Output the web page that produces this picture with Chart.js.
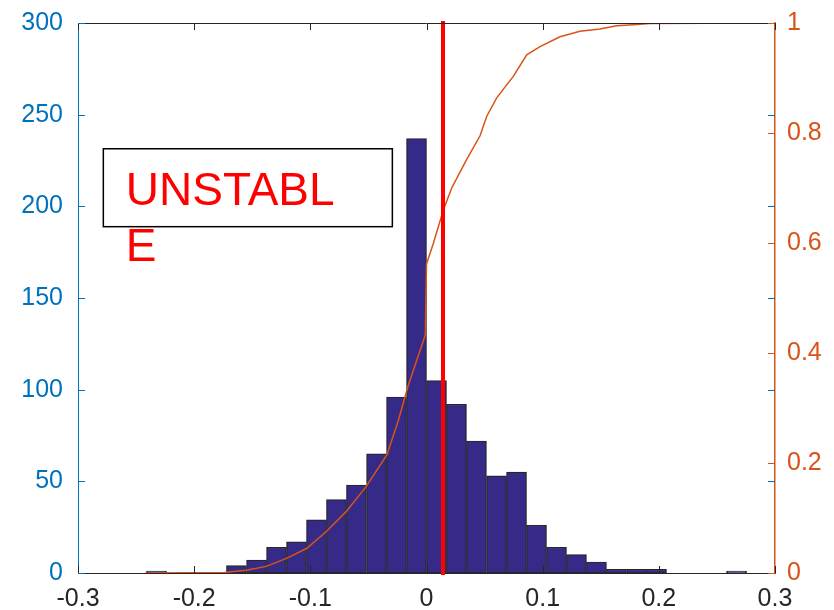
<!DOCTYPE html>
<html>
<head>
<meta charset="utf-8">
<script src="https://cdn.jsdelivr.net/npm/chart.js@4"></script>
<style>
  body { margin: 0; background: #fff; }
  #wrap { width: 834px; height: 610px; }
</style>
</head>
<body>
<div id="wrap"><canvas id="histChart"></canvas></div>
<script>
// histogram: bin centres and counts (bin width ~0.0172)
const binCenters = [-0.2324, -0.1636, -0.1463, -0.1291, -0.1119, -0.0947, -0.0775, -0.0603, -0.0430, -0.0258, -0.0086,
                    0.0086, 0.0258, 0.0430, 0.0603, 0.0775, 0.0947, 0.1119, 0.1291, 0.1463, 0.1635, 0.1808, 0.1980, 0.2669];
const binCounts = [1, 4, 7, 14, 17, 29, 40, 48, 65, 96, 237,
                   105, 92, 72, 53, 55, 26, 14, 10, 6, 2, 2, 2, 1];

// empirical CDF (orange curve, right axis)
const cdfX = [-0.242, -0.174, -0.155, -0.138, -0.120, -0.103, -0.086, -0.069, -0.052, -0.034, -0.024, -0.016, -0.001,
              0.000, 0.006, 0.0145, 0.0217, 0.0346, 0.0461, 0.0518, 0.0604, 0.0747, 0.0863, 0.0977, 0.1149, 0.1321,
              0.1493, 0.1637, 0.1778, 0.1924, 0.290];
const cdfY = [0, 0.001, 0.005, 0.012, 0.027, 0.045, 0.076, 0.112, 0.157, 0.215, 0.279, 0.339, 0.433,
              0.562, 0.600, 0.660, 0.700, 0.752, 0.795, 0.830, 0.864, 0.903, 0.942, 0.957, 0.975, 0.985,
              0.989, 0.995, 0.997, 0.999, 1];

// red threshold line
const thresholdX = 0.0142;

const xTicks = [-0.3, -0.2, -0.1, 0, 0.1, 0.2, 0.3];
const countTicks = [0, 50, 100, 150, 200, 250, 300];
const cdfTicks = [0, 0.2, 0.4, 0.6, 0.8, 1];
const noteLines = ['UNSTABL', 'E'];

const FONT = '"Liberation Sans", Arial, sans-serif';
const BLUE = '#0072BD', ORANGE = '#D95319', DARK = '#262626';

// inward tick marks, top frame line and the text box
const axisDecor = {
  id: 'axisDecor',
  afterDraw(chart) {
    const { ctx, chartArea: a, scales } = chart;
    const len = 7;
    ctx.save();
    ctx.lineWidth = 1;
    ctx.strokeStyle = DARK;
    ctx.beginPath();
    ctx.moveTo(a.left, a.top + 0.5);
    ctx.lineTo(a.right, a.top + 0.5);
    xTicks.forEach(v => {
      const px = Math.round(scales.x.getPixelForValue(v)) + 0.5;
      ctx.moveTo(px, a.bottom); ctx.lineTo(px, a.bottom - len);
      ctx.moveTo(px, a.top); ctx.lineTo(px, a.top + len);
    });
    ctx.stroke();

    ctx.strokeStyle = BLUE;
    ctx.beginPath();
    countTicks.forEach(v => {
      const py = Math.round(scales.y.getPixelForValue(v)) + 0.5;
      ctx.moveTo(a.left, py); ctx.lineTo(a.left + len, py);
      ctx.moveTo(a.right, py); ctx.lineTo(a.right - len, py);
    });
    ctx.stroke();

    ctx.strokeStyle = ORANGE;
    ctx.beginPath();
    cdfTicks.forEach(v => {
      const py = Math.round(scales.y1.getPixelForValue(v)) + 0.5;
      ctx.moveTo(a.right, py); ctx.lineTo(a.right - len, py);
    });
    ctx.stroke();

    // annotation box
    const bx0 = scales.x.getPixelForValue(-0.2782), bx1 = scales.x.getPixelForValue(-0.0294);
    const by0 = scales.y.getPixelForValue(231.4), by1 = scales.y.getPixelForValue(188.9);
    ctx.strokeStyle = '#000';
    ctx.lineWidth = 1.5;
    ctx.strokeRect(bx0, by0, bx1 - bx0, by1 - by0);
    ctx.fillStyle = '#FF0000';
    ctx.font = '46px ' + FONT;
    ctx.textBaseline = 'alphabetic';
    noteLines.forEach((t, i) => ctx.fillText(t, bx0 + 22.5, by0 + 56 + i * 56.7));
    ctx.restore();
  }
};

const noPad = s => { s.paddingTop = 0; s.paddingBottom = 0; };

const ctx = document.getElementById('histChart').getContext('2d');
new Chart(ctx, {
  type: 'bar',
  data: {
    datasets: [
      {
        type: 'line',
        data: [{ x: thresholdX, y: 0 }, { x: thresholdX, y: 1 }],
        yAxisID: 'y1',
        borderColor: '#FF0000',
        borderWidth: 4,
        borderCapStyle: 'square',
        pointRadius: 0,
        clip: false,
        order: 1
      },
      {
        type: 'line',
        data: cdfX.map((x, i) => ({ x, y: cdfY[i] })),
        yAxisID: 'y1',
        borderColor: ORANGE,
        borderWidth: 1.5,
        pointRadius: 0,
        tension: 0,
        order: 2
      },
      {
        type: 'bar',
        data: binCenters.map((x, i) => ({ x, y: binCounts[i] })),
        yAxisID: 'y',
        backgroundColor: '#352A87',
        borderColor: DARK,
        borderWidth: 1.2,
        borderSkipped: false,
        barPercentage: 1,
        categoryPercentage: 1,
        order: 3
      }
    ]
  },
  options: {
    responsive: true,
    maintainAspectRatio: false,
    animation: false,
    layout: { padding: { top: 23, left: 0, right: 0, bottom: 0 } },
    plugins: { legend: { display: false }, tooltip: { enabled: false } },
    scales: {
      x: {
        type: 'linear',
        min: -0.3, max: 0.3,
        offset: false,
        afterFit: s => { s.height = 37; s.paddingLeft = 0; s.paddingRight = 0; },
        afterBuildTicks: s => { s.ticks = xTicks.map(v => ({ value: v })); },
        grid: { display: false, drawTicks: false },
        border: { display: true, color: DARK, width: 1 },
        ticks: {
          padding: 11, color: DARK, font: { family: FONT, size: 25 },
          maxRotation: 0, autoSkip: false,
          callback: v => String(+v.toFixed(1))
        }
      },
      y: {
        position: 'left',
        min: 0, max: 300,
        afterFit: s => { s.width = 78; noPad(s); },
        afterBuildTicks: s => { s.ticks = countTicks.map(v => ({ value: v })); },
        grid: { display: false, drawTicks: false },
        border: { display: true, color: BLUE, width: 1 },
        ticks: { padding: 15, color: BLUE, font: { family: FONT, size: 25 } }
      },
      y1: {
        position: 'right',
        min: 0, max: 1,
        afterFit: s => { s.width = 59; noPad(s); },
        afterBuildTicks: s => { s.ticks = cdfTicks.map(v => ({ value: v })); },
        grid: { display: false, drawTicks: false },
        border: { display: true, color: ORANGE, width: 1.5 },
        ticks: {
          padding: 12, color: ORANGE, font: { family: FONT, size: 25 },
          callback: v => String(+v.toFixed(1))
        }
      }
    }
  },
  plugins: [axisDecor]
});
</script>
</body>
</html>
